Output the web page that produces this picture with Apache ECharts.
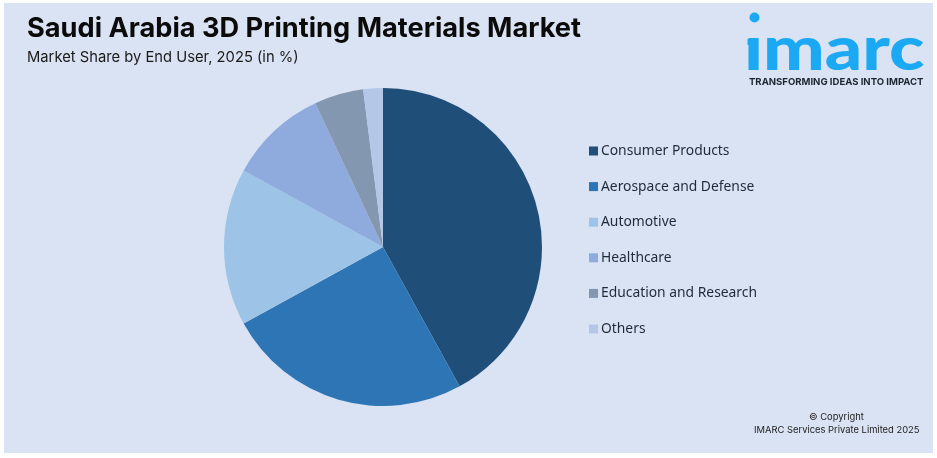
<!DOCTYPE html>
<html>
<head>
<meta charset="utf-8">
<style>
  html, body { margin: 0; padding: 0; background: #fff; }
  #chart { width: 937px; height: 458px; }
</style>
<script src="https://cdn.jsdelivr.net/npm/echarts@6/dist/echarts.min.js"></script>
</head>
<body>
<div id="chart"></div>
<script>
const categories = ['Consumer Products', 'Aerospace and Defense', 'Automotive', 'Healthcare', 'Education and Research', 'Others'];
const shares = [42, 25, 16, 10, 5, 2];
const colors = ['#1f4e79', '#2e75b6', '#9dc3e6', '#8faadc', '#8497b0', '#b4c7e7'];

const chart = echarts.init(document.getElementById('chart'));

chart.setOption({
  animation: false,
  color: colors,
  title: [
    {
      text: 'Saudi Arabia 3D Printing Materials Market',
      left: 22, top: 10,
      textStyle: { fontFamily: 'Inter', fontSize: 27.2, fontWeight: 700, color: '#0b0b0b' }
    },
    {
      text: 'Market Share by End User, 2025 (in %)',
      left: 22, top: 45,
      textStyle: { fontFamily: 'Inter', fontSize: 14.75, fontWeight: 400, color: '#1a1a1a' }
    }
  ],
  legend: {
    orient: 'vertical',
    left: 584, top: 138,
    icon: 'rect',
    itemWidth: 9, itemHeight: 9,
    itemGap: 19.6,
    selectedMode: false,
    textStyle: { fontFamily: 'Noto Sans', fontSize: 13.85, color: '#1f2a38', padding: [0, 0, 0, -2], lineHeight: 16, height: 16 },
    data: categories
  },
  series: [{
    type: 'pie',
    center: [383, 247],
    radius: [0, 159],
    startAngle: 90,
    label: { show: false },
    labelLine: { show: false },
    emphasis: { disabled: true },
    itemStyle: { borderWidth: 0 },
    data: categories.map((name, i) => ({ name, value: shares[i] }))
  }],
  graphic: [
    { type: 'rect', z: -10, shape: { x: 4, y: 3, width: 929, height: 450 }, style: { fill: '#dae3f3' } },
    // logo
    { type: 'circle', shape: { cx: 754.5, cy: 17.5, r: 5 }, style: { fill: '#1aa9f2' } },
    { type: 'rect', shape: { x: 747.5, y: 39, width: 8, height: 6 }, style: { fill: '#1aa9f2' } },
    { type: 'text', x: 744, y: 20, scaleX: 1.2, style: { text: 'ımarc', font: '900 61px Lato', fill: '#1aa9f2' } },
    { type: 'text', left: 749, top: 77, style: { text: 'TRANSFORMING IDEAS INTO IMPACT', font: '700 9.55px Inter', fill: '#1c2530' } },
    // copyright
    { type: 'text', left: 809, top: 413, style: { text: '© Copyright', font: '9.4px Inter', fill: '#222' } },
    { type: 'text', left: 754, top: 426, style: { text: 'IMARC Services Private Limited 2025', font: '9.4px Inter', fill: '#222' } }
  ]
});
</script>
</body>
</html>
